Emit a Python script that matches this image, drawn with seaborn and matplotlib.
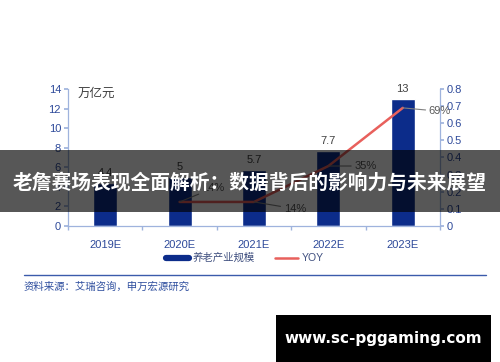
import numpy as np
import pandas as pd
import matplotlib.pyplot as plt
import seaborn as sns
from matplotlib.lines import Line2D
from matplotlib.patches import Rectangle

years = ['2019E', '2020E', '2021E', '2022E', '2023E']
scale = [4.4, 5, 5.7, 7.7, 13]
yoy = [np.nan, 0.14, 0.14, 0.35, 0.69]
yoy_labels = ['', '14%', '14%', '35%', '69%']
title = '老詹赛场表现全面解析：数据背后的影响力与未来展望'

sns.set_theme(style='white')
plt.rcParams['font.family'] = ['Liberation Sans', 'Noto Sans CJK SC', 'DejaVu Sans']

bar_col = '#0c2c8a'
line_col = '#e8605c'
tick_col = '#2e4a9a'
spine_col = '#9fb3dd'

df = pd.DataFrame({'year': years, 'scale': scale, 'yoy': yoy})
df['pos'] = np.arange(len(df))

fig = plt.figure(figsize=(5, 3.62), dpi=100)
ax = fig.add_axes([0.136, 0.376, 0.744, 0.378])
sns.barplot(data=df, x='year', y='scale', color=bar_col, saturation=1, width=0.32, ax=ax)
for i, v in enumerate(scale):
    ax.text(i, v + 0.5, f'{v:g}', ha='center', va='bottom', fontsize=8, color='#404040')
ax.set_ylim(0, 14)
ax.set_yticks(range(0, 15, 2))
ax.set_xlim(-0.5, len(years) - 0.5)
ax.set_xlabel('')
ax.set_ylabel('')
ax.text(0.027, 0.965, '万亿元', transform=ax.transAxes, fontsize=9, color='#404040', va='center')

ax2 = ax.twinx()
sns.lineplot(data=df, x='pos', y='yoy', color=line_col, lw=1.8, ax=ax2)
ax2.set_ylim(0, 0.8)
ax2.set_yticks(np.arange(0, 0.81, 0.1))
ax2.set_yticklabels(['0'] + [f'{t:.1f}' for t in np.arange(0.1, 0.81, 0.1)])
ax2.set_xlabel('')
ax2.set_ylabel('')

offsets = {1: (0.3, 0.08), 2: (0.4, -0.04), 3: (0.35, 0.0), 4: (0.35, -0.02)}
for i, lab in enumerate(yoy_labels):
    if not lab:
        continue
    dx, dy = offsets[i]
    ax2.annotate(lab, xy=(i, yoy[i]), xytext=(i + dx, yoy[i] + dy), fontsize=8,
                 color='#595959', va='center', ha='left',
                 arrowprops=dict(arrowstyle='-', color='#808080', lw=0.8,
                                 shrinkA=0, shrinkB=0))

for a in (ax, ax2):
    a.spines['top'].set_visible(False)
    for s in ('left', 'right', 'bottom'):
        a.spines[s].set_color(spine_col)
        a.spines[s].set_linewidth(0.9)
ax.spines['right'].set_visible(False)
ax2.spines['left'].set_visible(False)
ax2.spines['bottom'].set_visible(False)

ax.tick_params(axis='y', left=True, length=3, color=spine_col, labelsize=8, labelcolor=tick_col, pad=2)
ax2.tick_params(axis='y', right=True, length=3, color=spine_col, labelsize=8, labelcolor=tick_col, pad=2)
ax.set_xticks(np.arange(len(years)))
ax.set_xticklabels(years)
ax.tick_params(axis='x', bottom=False, labelsize=8, labelcolor=tick_col, pad=4)
ax.set_xticks(np.arange(len(years) + 1) - 0.5, minor=True)
ax.tick_params(axis='x', which='minor', bottom=True, length=3, color=spine_col)

handles = [Line2D([0], [0], color=bar_col, lw=4.5), Line2D([0], [0], color=line_col, lw=1.8)]
fig.legend(handles, ['养老产业规模', 'YOY'], loc='center', bbox_to_anchor=(0.49, 0.287),
           ncol=2, frameon=False, fontsize=7.5, handlelength=2.2, handletextpad=0.3,
           columnspacing=2.0, labelcolor='#3f4f7f')

fig.add_artist(Line2D([0.048, 0.972], [0.241, 0.241], color='#3b5bab', lw=1.0))
fig.text(0.048, 0.207, '资料来源：艾瑞咨询，申万宏源研究', fontsize=7.5, color='#2f4f9f', va='center')

# dark banner with title
fig.add_artist(Rectangle((0, 1 - 212 / 362), 1, 62 / 362, transform=fig.transFigure,
                         color='black', alpha=0.66, lw=0))
fig.text(0.5, 1 - 183 / 362, title, ha='center', va='center', fontsize=14.2,
         color='white', fontweight='bold', family=['Noto Sans CJK SC', 'DejaVu Sans'])

# watermark box
fig.add_artist(Rectangle((276 / 500, 0), 215 / 500, 47 / 362, transform=fig.transFigure,
                         color='black', lw=0))
fig.text(383 / 500, 23 / 362, 'www.sc-pggaming.com', ha='center', va='center',
         fontsize=11, color='white', fontweight='bold', family=['DejaVu Sans'])

fig.savefig('out.png', dpi=100)
